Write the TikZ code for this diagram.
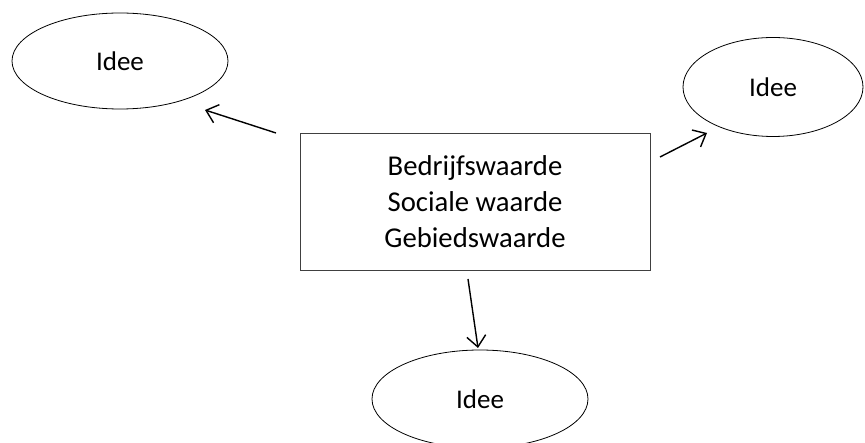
\documentclass[tikz,border=0pt]{standalone}
\usepackage{fontspec}
\setmainfont{Carlito}
\usetikzlibrary{arrows.meta, shapes.geometric}
\begin{document}
\begin{tikzpicture}[x=1pt, y=-1pt,
		idee/.style={draw, ellipse, inner sep=0pt, line width=.8pt, font=\fontsize{27}{32}\selectfont},
		pijl/.style={-{Straight Barb[length=11pt, width=19pt]}, line width=1.4pt}]
		\useasboundingbox(0, 0)rectangle(865, 443);
		\node[idee, minimum width=216pt, minimum height=96pt](linkerIdee)at(120, 61){Idee};
		\node[idee, minimum width=180pt, minimum height=99pt](rechterIdee)at(773, 87){Idee};
		\node[idee, minimum width=216pt, minimum height=98pt](onderIdee)at(480, 399){Idee};
		\node[draw=black!75, line width=.9pt, minimum width=350pt, minimum height=137pt, align=center,
			font=\fontsize{28.7}{36}\selectfont](waarden)at(475, 201.5){Bedrijfswaarde\\Sociale waarde\\Gebiedswaarde};
		% pijlen van het blok naar de ideeen
		\coordinate(l0)at(276, 133);
		\coordinate(l1)at(205, 110);
		\coordinate(r0)at(660, 157);
		\coordinate(r1)at(707, 133);
		\coordinate(o0)at(468, 279);
		\coordinate(o1)at(478, 348);
		\draw[pijl](l0)--(l1);
		\draw[pijl](r0)--(r1);
		\draw[pijl](o0)--(o1);
	\end{tikzpicture}
\end{document}
